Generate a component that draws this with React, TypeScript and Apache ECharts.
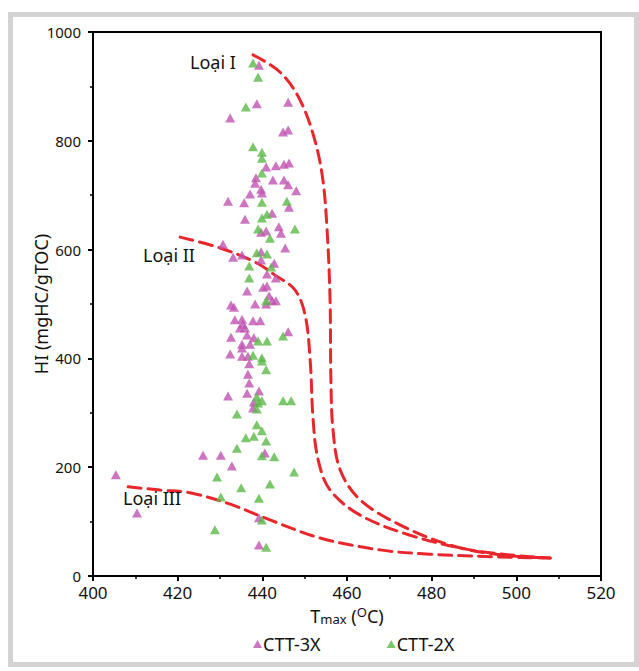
import React, { useEffect, useRef } from "react";
import * as echarts from "echarts";

const ctt3x: number[][] = [
  [405.4, 186], [410.4, 116],
  [439.2, 939], [438.7, 868], [432.4, 842], [446.1, 871], [444.9, 816], [446.1, 820],
  [440.9, 752], [443.2, 754], [445.1, 757], [446.3, 759], [438.5, 732], [438.3, 722], [442.5, 728], [445.1, 728], [446.1, 719], [448, 708], [439.7, 711], [439.9, 704], [437.1, 702], [431.9, 689], [435.7, 686], [446.3, 678], [442.3, 667], [435.9, 656], [443.9, 642], [439.7, 632], [440.9, 634], [444.4, 630], [430.7, 610], [445.4, 603], [439.7, 596], [435.2, 590], [433.1, 586],
  [439.7, 581], [442.8, 575], [441.1, 555], [443.2, 548], [440.2, 531], [441.1, 533], [436.4, 524], [441.6, 515], [442.3, 506], [443.2, 506], [440.9, 500], [438.3, 500], [432.6, 498], [433.3, 494], [433.5, 471], [435.2, 472], [437.8, 469], [439.5, 469], [434.7, 456], [435.9, 456], [435.4, 463], [446.1, 449], [436.4, 443], [432.6, 439], [438, 438], [437.1, 426], [435.2, 426], [435.2, 419], [432.4, 408], [435.2, 404], [436.6, 404],
  [436.9, 390], [436.6, 371], [436.9, 355], [436.4, 336], [431.9, 331], [439.2, 340], [438, 320], [437.8, 309],
  [426, 222], [430.2, 222], [440.6, 226], [432.8, 202], [439.2, 107], [439.2, 57],
];

const ctt2x: number[][] = [
  [437.8, 943], [439, 917], [436.1, 862], [437.8, 789], [439.9, 779], [439.9, 768], [439.9, 741], [439.9, 687], [445.8, 689], [441.1, 665], [439.9, 658], [439, 638], [447.7, 638], [441.8, 621], [438.7, 594], [441.1, 592], [436.9, 570], [442.1, 568], [436.9, 548], [440.9, 506], [444.9, 441], [439, 432], [441.1, 432], [437.8, 406], [439.9, 401], [439.9, 395], [440.9, 379], [438.7, 329], [439.9, 322], [439, 318], [438.7, 307], [444.9, 322], [446.8, 322], [434, 298], [438.7, 278], [439.9, 267], [438, 257], [436.1, 254], [440.9, 248], [434, 235], [439.9, 221], [442.8, 219], [429.3, 182], [447.5, 191], [435, 162], [441.8, 169], [430.2, 145], [439.2, 143], [439.9, 103], [428.8, 85], [440.9, 53],
];

const typeI: number[][] = [
  [437.8, 958], [444.2, 926], [448.9, 875], [452.4, 801], [454.3, 728], [455.3, 636], [456, 507], [456.2, 360], [456.7, 268], [458.4, 195], [463.1, 140], [472.5, 94], [484.3, 57], [496.1, 39], [508, 33],
];
const typeII: number[][] = [
  [420.6, 623], [430, 603], [438.3, 577], [443, 553], [447.7, 526], [450.1, 480], [451.3, 397], [452, 287], [453.2, 213], [456, 158], [463.1, 112], [474.9, 75], [489.1, 48], [500.9, 37], [508, 33],
];
const typeIII: number[][] = [
  [408.3, 164], [415.8, 158], [422.9, 153], [432.4, 132], [441.8, 103], [453.6, 70], [467.8, 48], [479.6, 40], [496.1, 35], [508, 33],
];

const xTicks = { min: 400, max: 520, interval: 20 };
const yTicks = { min: 0, max: 1000, interval: 200 };
const typeLabels = ["Loại I", "Loại II", "Loại III"];

const FONT = "Noto Sans";
const RED = "#e8262b";
const MAGENTA = "#c052b0";
const GREEN = "#5bb947";

export default function App() {
  const ref = useRef<HTMLDivElement>(null);
  useEffect(() => {
    if (!ref.current) return;
    const chart = echarts.init(ref.current, undefined, { renderer: "svg" });
    const dashed = (data: number[][]) => ({
      type: "line",
      data,
      smooth: 0.35,
      symbol: "none",
      silent: true,
      lineStyle: { color: RED, width: 3, type: [13, 7], cap: "round" },
      z: 1,
    });
    chart.setOption({
      animation: false,
      backgroundColor: "#fff",
      textStyle: { fontFamily: FONT },
      grid: { left: 93, right: 38, top: 32, bottom: 95, containLabel: false },
      xAxis: {
        type: "value",
        min: xTicks.min,
        max: xTicks.max,
        interval: xTicks.interval,
        name: "T{sub|max} ({sup|O}C)",
        nameLocation: "middle",
        nameGap: 22,
        nameTextStyle: {
          fontSize: 18,
          color: "#111",
          fontFamily: FONT,
          rich: {
            sub: { fontSize: 13, verticalAlign: "bottom", padding: [7, 0, 0, 0], color: "#111", fontFamily: FONT },
            sup: { fontSize: 13, verticalAlign: "top", padding: [0, 0, 7, 0], color: "#111", fontFamily: FONT },
          },
        },
        axisLine: { show: true, onZero: false, lineStyle: { color: "#000", width: 2 } },
        axisTick: { show: true, length: 5, lineStyle: { color: "#000", width: 2 } },
        minorTick: { show: true, splitNumber: 2, length: 3, lineStyle: { color: "#000", width: 1.5 } },
        axisLabel: { fontSize: 17, color: "#111", margin: 8, fontFamily: FONT },
        splitLine: { show: false },
      },
      yAxis: {
        type: "value",
        min: yTicks.min,
        max: yTicks.max,
        interval: yTicks.interval,
        name: "HI (mgHC/gTOC)",
        nameLocation: "middle",
        nameGap: 43,
        nameMoveOverlap: false,
        nameTextStyle: { fontSize: 18, color: "#111", fontFamily: FONT },
        axisLine: { show: true, onZero: false, lineStyle: { color: "#000", width: 2 } },
        axisTick: { show: true, length: 5, lineStyle: { color: "#000", width: 2 } },
        minorTick: { show: true, splitNumber: 2, length: 3, lineStyle: { color: "#000", width: 1.5 } },
        axisLabel: { fontSize: 15, color: "#111", margin: 12, fontFamily: FONT, formatter: (v: number) => String(v) },
        splitLine: { show: false },
      },
      legend: {
        left: 248,
        top: 630,
        itemGap: 66,
        itemWidth: 9,
        itemHeight: 8,
        icon: "triangle",
        textStyle: { fontSize: 18, color: "#111", fontFamily: FONT, padding: [0, 0, 0, -4] },
        data: ["CTT-3X", "CTT-2X"],
      },
      graphic: [
        {
          type: "rect",
          shape: { x: 10.5, y: 14.5, width: 626, height: 650 },
          style: { fill: "none", stroke: "#d3d3d3", lineWidth: 5 },
          silent: true,
          z: -10,
        },
        {
          type: "rect",
          shape: { x: 93, y: 32, width: 508, height: 544 },
          style: { fill: "none", stroke: "#000", lineWidth: 2 },
          silent: true,
          z: 10,
        },
        { type: "text", left: 190, top: 53, style: { text: typeLabels[0], font: `18px '${FONT}'`, fill: "#111" }, z: 20 },
        { type: "text", left: 143, top: 246, style: { text: typeLabels[1], font: `18px '${FONT}'`, fill: "#111" }, z: 20 },
        { type: "text", left: 123, top: 489, style: { text: typeLabels[2], font: `18px '${FONT}'`, fill: "#111" }, z: 20 },
      ],
      series: [
        dashed(typeI),
        dashed(typeII),
        dashed(typeIII),
        {
          name: "CTT-3X",
          type: "scatter",
          data: ctt3x,
          symbol: "triangle",
          symbolSize: [10, 9],
          itemStyle: { color: MAGENTA },
          z: 3,
        },
        {
          name: "CTT-2X",
          type: "scatter",
          data: ctt2x,
          symbol: "triangle",
          symbolSize: [10, 9],
          itemStyle: { color: GREEN },
          z: 4,
        },
      ],
    });
    return () => chart.dispose();
  }, []);
  return (
    <div style={{ position: "fixed", left: 0, top: 0, width: 639, height: 671, background: "#fff" }}>
      <div ref={ref} style={{ width: 639, height: 671 }} />
    </div>
  );
}
